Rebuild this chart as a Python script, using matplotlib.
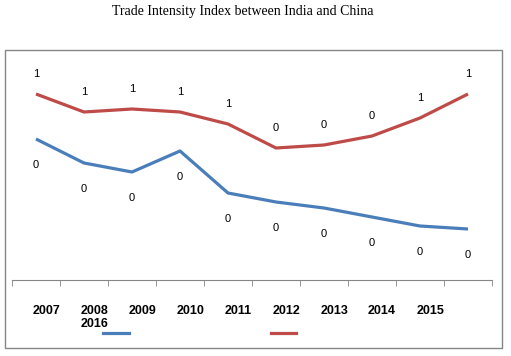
import numpy as np
import matplotlib
matplotlib.use("Agg")
import matplotlib.pyplot as plt
from matplotlib.patches import Rectangle

years = ["2007", "2008\n2016", "2009", "2010", "2011", "2012", "2013", "2014", "2015"]
india_to_china = [0.47, 0.39, 0.36, 0.43, 0.29, 0.26, 0.24, 0.21, 0.18, 0.17]
china_to_india = [0.62, 0.56, 0.57, 0.56, 0.52, 0.44, 0.45, 0.48, 0.54, 0.62]

blue = "#4A7EBB"
red = "#BE4B48"

fig = plt.figure(figsize=(5.11, 3.56), dpi=100)
fig.text(243 / 511, 1 - 12 / 356, "Trade Intensity Index between India and China",
         ha="center", va="center", fontsize=10, family="Liberation Serif")

# outer chart frame
fig.patches.append(Rectangle((5 / 511, 8 / 356), 497 / 511, 298 / 356,
                             transform=fig.transFigure, fill=False,
                             edgecolor="#868686", linewidth=1))

ax = fig.add_axes([12 / 511, 76 / 356, 480 / 511, 240 / 356])
x = np.arange(len(india_to_china))
ax.plot(x, india_to_china, color=blue, lw=2.3, solid_capstyle="butt")
ax.plot(x, china_to_india, color=red, lw=2.3, solid_capstyle="butt")

for xi, v in zip(x, china_to_india):
    ax.annotate(f"{v:.0f}", (xi, v), xytext=(0, 14.4), textcoords="offset points",
                ha="center", va="center", fontsize=8, family="Liberation Sans")
for xi, v in zip(x, india_to_china):
    ax.annotate(f"{v:.0f}", (xi, v), xytext=(0, -18.7), textcoords="offset points",
                ha="center", va="center", fontsize=8, family="Liberation Sans")

ax.set_xlim(-0.5, 9.5)
ax.set_ylim(0, 0.8)
for s in ["top", "right", "left"]:
    ax.spines[s].set_visible(False)
ax.spines["bottom"].set_color("#868686")
ax.set_yticks([])

ax.set_xticks(np.arange(-0.5, 10, 1), minor=True)
ax.tick_params(axis="x", which="minor", length=4, direction="out", color="#868686")
ax.set_xticks(np.arange(len(years)) + 0.21)
ax.set_xticklabels(years, fontsize=9, fontweight="bold", family="Liberation Sans",
                   linespacing=1.15)
ax.tick_params(axis="x", which="major", length=0, pad=18)

# legend keys without text
fig.add_artist(plt.Line2D([103 / 511, 129 / 511], [1 - 333 / 356] * 2,
                          color=blue, lw=2.3, transform=fig.transFigure))
fig.add_artist(plt.Line2D([271 / 511, 296 / 511], [1 - 333 / 356] * 2,
                          color=red, lw=2.3, transform=fig.transFigure))

fig.savefig("out.png", dpi=100)
